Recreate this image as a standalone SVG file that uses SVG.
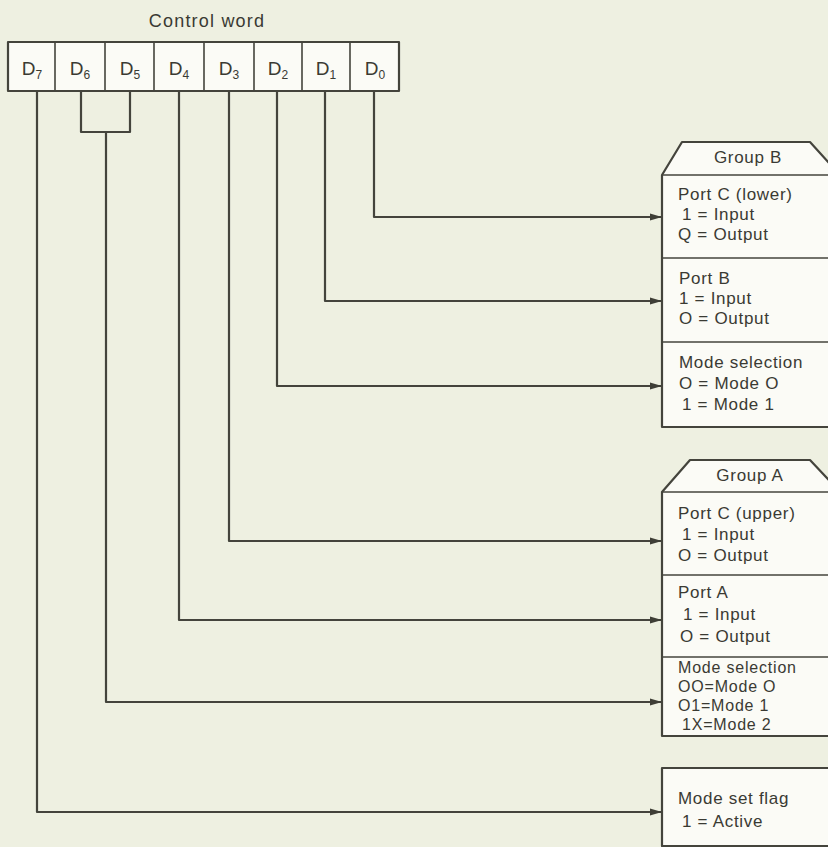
<svg xmlns="http://www.w3.org/2000/svg" width="828" height="847" viewBox="0 0 828 847">
<defs>
<marker id="arr" markerUnits="userSpaceOnUse" markerWidth="12" markerHeight="8" refX="12" refY="4" orient="auto">
<path d="M0,0.5 L12,4 L0,7.5 z" fill="#3e3e36"/>
</marker>
<style>
.bg{fill:#eef0e1}
.box{fill:#fbfbf6;stroke:#44443c;stroke-width:2.2;stroke-linejoin:round}
.div{stroke:#44443c;stroke-width:1.6}
.wire{fill:none;stroke:#44443c;stroke-width:2.2;stroke-linejoin:round}
text{font-family:"Liberation Sans",Arial,sans-serif;fill:#3a3a33;font-size:17px;letter-spacing:0.7px}
.t{font-size:18px;letter-spacing:1.2px}
.c{text-anchor:middle}
.d{font-size:19px;letter-spacing:0}
.s{font-size:12px}
.m{font-size:16px;letter-spacing:0.8px}
</style>
</defs>
<rect class="bg" x="0" y="0" width="828" height="847"/>

<g id="control-word">
<text class="t c" x="207" y="27">Control word</text>
<rect class="box" x="8" y="42" width="391" height="49"/>
<line class="div" x1="55" y1="42" x2="55" y2="91"/>
<line class="div" x1="105" y1="42" x2="105" y2="91"/>
<line class="div" x1="154" y1="42" x2="154" y2="91"/>
<line class="div" x1="204" y1="42" x2="204" y2="91"/>
<line class="div" x1="254" y1="42" x2="254" y2="91"/>
<line class="div" x1="302" y1="42" x2="302" y2="91"/>
<line class="div" x1="350" y1="42" x2="350" y2="91"/>
<text class="d c" x="32" y="75">D<tspan class="s" dy="4">7</tspan></text>
<text class="d c" x="80" y="75">D<tspan class="s" dy="4">6</tspan></text>
<text class="d c" x="130" y="75">D<tspan class="s" dy="4">5</tspan></text>
<text class="d c" x="179" y="75">D<tspan class="s" dy="4">4</tspan></text>
<text class="d c" x="229" y="75">D<tspan class="s" dy="4">3</tspan></text>
<text class="d c" x="278" y="75">D<tspan class="s" dy="4">2</tspan></text>
<text class="d c" x="326" y="75">D<tspan class="s" dy="4">1</tspan></text>
<text class="d c" x="375" y="75">D<tspan class="s" dy="4">0</tspan></text>
</g>

<g id="group-b">
<path class="box" d="M662,175 L682,142 L810,142 L840,175 L840,427 L662,427 Z"/>
<line class="div" x1="662" y1="175" x2="840" y2="175"/>
<line class="div" x1="662" y1="258" x2="840" y2="258"/>
<line class="div" x1="662" y1="342" x2="840" y2="342"/>
<text class="c" x="748" y="163">Group B</text>
<text x="678" y="200">Port C (lower)</text>
<text x="682" y="220">1 = Input</text>
<text x="678" y="240">Q = Output</text>
<text x="679" y="284">Port B</text>
<text x="679" y="304">1 = Input</text>
<text x="679" y="324">O = Output</text>
<text x="679" y="368">Mode selection</text>
<text x="679" y="389">O = Mode O</text>
<text x="682" y="410">1 = Mode 1</text>
</g>

<g id="group-a">
<path class="box" d="M662,492 L690,460 L810,460 L840,492 L840,736 L662,736 Z"/>
<line class="div" x1="662" y1="492" x2="840" y2="492"/>
<line class="div" x1="662" y1="575" x2="840" y2="575"/>
<line class="div" x1="662" y1="657" x2="840" y2="657"/>
<text class="c" x="750" y="481">Group A</text>
<text x="678" y="519">Port C (upper)</text>
<text x="682" y="540">1 = Input</text>
<text x="678" y="561">O = Output</text>
<text x="678" y="598">Port A</text>
<text x="683" y="620">1 = Input</text>
<text x="680" y="642">O = Output</text>
<text class="m" x="678" y="673">Mode selection</text>
<text class="m" x="678" y="692">OO=Mode O</text>
<text class="m" x="678" y="711">O1=Mode 1</text>
<text class="m" x="682" y="730">1X=Mode 2</text>
</g>

<g id="mode-set-flag">
<rect class="box" x="662" y="768" width="178" height="78"/>
<text x="678" y="804">Mode set flag</text>
<text x="682" y="827">1 = Active</text>
</g>

<g id="connectors">
<path class="wire" d="M374,91 V217 H662" marker-end="url(#arr)"/>
<path class="wire" d="M325,91 V301 H662" marker-end="url(#arr)"/>
<path class="wire" d="M277,91 V386 H662" marker-end="url(#arr)"/>
<path class="wire" d="M229,91 V541 H662" marker-end="url(#arr)"/>
<path class="wire" d="M179,91 V620 H662" marker-end="url(#arr)"/>
<path class="wire" d="M81,91 V132 H130 V91"/>
<path class="wire" d="M106,132 V702 H662" marker-end="url(#arr)"/>
<path class="wire" d="M37,91 V812 H662" marker-end="url(#arr)"/>
</g>
</svg>
